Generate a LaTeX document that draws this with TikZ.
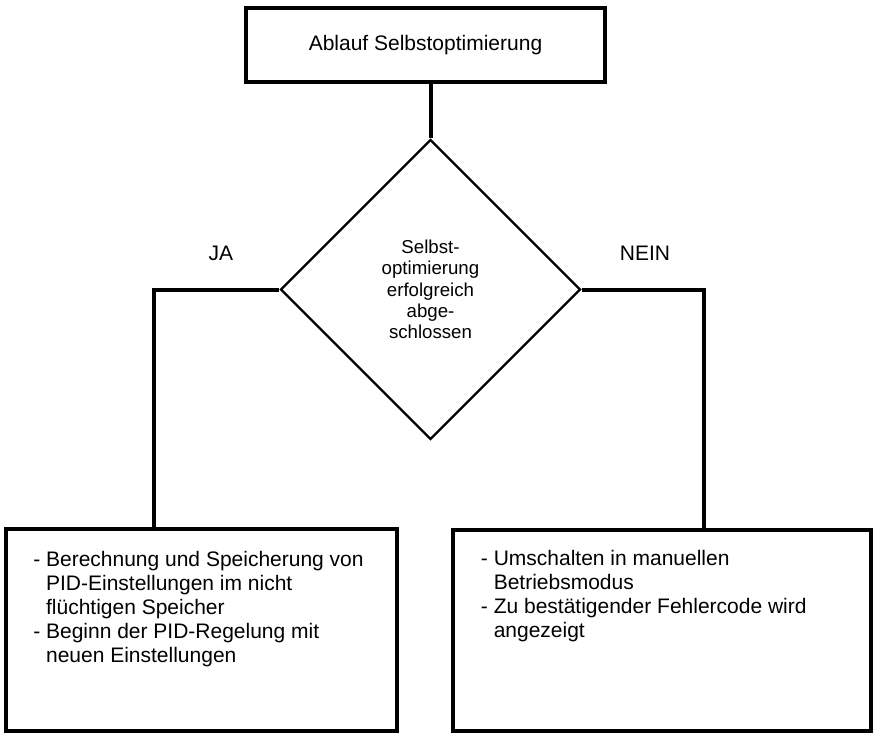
\documentclass[tikz,border=0pt]{standalone}
\usepackage{fontspec}
\setmainfont{Liberation Sans}
\usepackage{tikz}
\usetikzlibrary{shapes.geometric}
\usetikzlibrary{calc}

\begin{document}
\begin{tikzpicture}[x = 0.75pt, y = -0.75pt,
		box/.style = {draw, line width = 3pt, inner sep = 0pt},
		dia/.style = {diamond, draw, line width = 1.8pt, inner sep = 0pt, align = center,
			minimum width = 225pt, minimum height = 225pt, font = \fontsize{14}{16}\selectfont},
		txt/.style = {anchor = north west, inner sep = 0pt, align = left, font = \fontsize{15.75}{18}\selectfont},
		lbl/.style = {font = \fontsize{15.75}{18}\selectfont},
		con/.style = {line width = 3pt}]
		\useasboundingbox (0,0) rectangle (874,734);
		\node[box, minimum width = 269pt, minimum height = 55.5pt, font = \fontsize{15.75}{18}\selectfont] (start) at (425.5, 45) {Ablauf Selbstoptimierung};
		\node[dia] (dec) at (430.5, 289.5) {Selbst-\\optimierung\\erfolgreich\\abge-\\schlossen};
		\node[box, minimum width = 293.25pt, minimum height = 151.5pt] (jabox) at (201.5, 630) {};
		\node[box, minimum width = 314pt, minimum height = 150.75pt] (neinbox) at (662, 630.5) {};
		\node[txt] (jatxt) at ([xshift = 21.75pt, yshift = -18pt] jabox.north west) {- Berechnung und Speicherung von\\\hphantom{- }PID-Einstellungen im nicht\\\hphantom{- }flüchtigen Speicher\\- Beginn der PID-Regelung mit\\\hphantom{- }neuen Einstellungen};
		\node[txt] (neintxt) at ([xshift = 22.5pt, yshift = -16.5pt] neinbox.north west) {- Umschalten in manuellen\\\hphantom{- }Betriebsmodus\\- Zu bestätigender Fehlercode wird\\\hphantom{- }angezeigt};
		\node[lbl] (ja) at (221, 253) {JA};
		\node[lbl] (nein) at (645, 253) {NEIN};
		\draw[con] (dec.north |- start.south) -- (dec.north);
		\draw[con] (dec.west) -| ($(jabox.north west)!0.381!(jabox.north east)$);
		\draw[con] (dec.east) -| ($(neinbox.north west)!0.6!(neinbox.north east)$);
	\end{tikzpicture}
\end{document}
